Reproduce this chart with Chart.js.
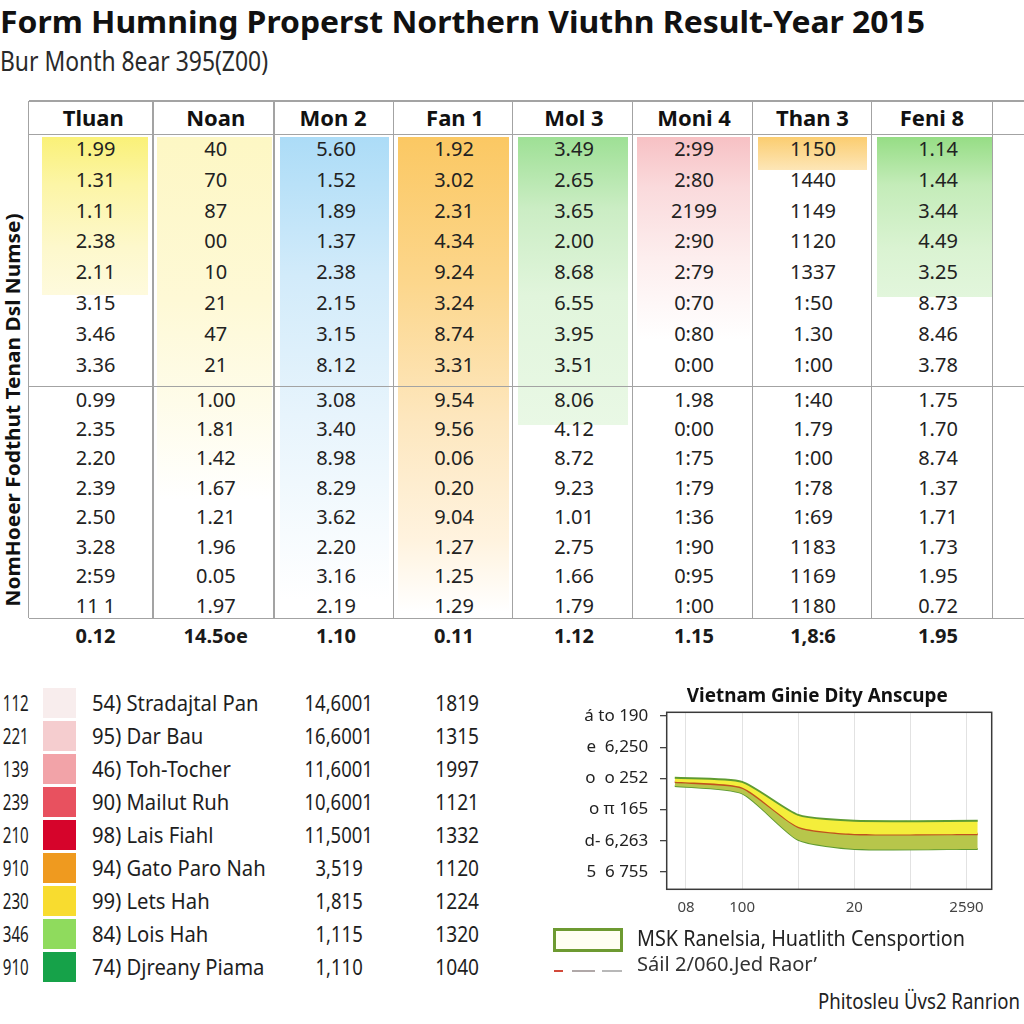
<!DOCTYPE html>
<html>
<head>
<meta charset="utf-8">
<script src="https://cdn.jsdelivr.net/npm/chart.js@4.4.0/dist/chart.umd.min.js"></script>
<style>
    html, body { margin: 0; padding: 0; background: #fff; }
    body { width: 1024px; height: 1024px; position: relative; overflow: hidden; font-family: "Noto Sans", sans-serif; color: #1e1e1e; }
    .t { position: absolute; white-space: pre; line-height: 1; font-family: "Noto Sans", sans-serif; }
    .ln { position: absolute; background: #a3a3a3; }
    .shade { position: absolute; }
    #bandChart { position: absolute; left: 540px; top: 700px; }
</style>
</head>
<body>
<canvas id="bandChart" width="460" height="230"></canvas>
<script>
// ---- table data ----
var columnHeaders = ['Tluan', 'Noan', 'Mon 2', 'Fan 1', 'Mol 3', 'Moni 4', 'Than 3', 'Feni 8'];
var tluan = ['1.99', '1.31', '1.11', '2.38', '2.11', '3.15', '3.46', '3.36', '0.99', '2.35', '2.20', '2.39', '2.50', '3.28', '2:59', '11 1'];
var noan  = ['40', '70', '87', '00', '10', '21', '47', '21', '1.00', '1.81', '1.42', '1.67', '1.21', '1.96', '0.05', '1.97'];
var mon2  = ['5.60', '1.52', '1.89', '1.37', '2.38', '2.15', '3.15', '8.12', '3.08', '3.40', '8.98', '8.29', '3.62', '2.20', '3.16', '2.19'];
var fan1  = ['1.92', '3.02', '2.31', '4.34', '9.24', '3.24', '8.74', '3.31', '9.54', '9.56', '0.06', '0.20', '9.04', '1.27', '1.25', '1.29'];
var mol3  = ['3.49', '2.65', '3.65', '2.00', '8.68', '6.55', '3.95', '3.51', '8.06', '4.12', '8.72', '9.23', '1.01', '2.75', '1.66', '1.79'];
var moni4 = ['2:99', '2:80', '2199', '2:90', '2:79', '0:70', '0:80', '0:00', '1.98', '0:00', '1:75', '1:79', '1:36', '1:90', '0:95', '1:00'];
var than3 = ['1150', '1440', '1149', '1120', '1337', '1:50', '1.30', '1:00', '1:40', '1.79', '1:00', '1:78', '1:69', '1183', '1169', '1180'];
var feni8 = ['1.14', '1.44', '3.44', '4.49', '3.25', '8.73', '8.46', '3.78', '1.75', '1.70', '8.74', '1.37', '1.71', '1.73', '1.95', '0.72'];
var footerRow = ['0.12', '14.5oe', '1.10', '0.11', '1.12', '1.15', '1,8:6', '1.95'];

// ---- colour key list ----
var keyCodes  = ['112', '221', '139', '239', '210', '910', '230', '346', '910'];
var keyNames  = ['54) Stradajtal Pan', '95) Dar Bau', '46) Toh-Tocher', '90) Mailut Ruh', '98) Lais Fiahl',
                 '94) Gato Paro Nah', '99) Lets Hah', '84) Lois Hah', '74) Djreany Piama'];
var keyValueA = ['14,6001', '16,6001', '11,6001', '10,6001', '11,5001', '3,519', '1,815', '1,115', '1,110'];
var keyValueB = ['1819', '1315', '1997', '1121', '1332', '1120', '1224', '1320', '1040'];
var keyColors = ['#f8eded', '#f5cdcf', '#f2a3a8', '#e8515f', '#d6042b', '#ef9a1f', '#f8dc2f', '#8fdb5d', '#16a249'];

// ---- small band chart ----
var bandX     = [-0.2, 1.0, 2.0, 3.0, 5.2];
var bandUpper = [3.02, 2.89, 1.83, 1.64, 1.64];
var bandMid   = [2.89, 2.71, 1.45, 1.22, 1.22];
var bandLower = [2.76, 2.52, 1.03, 0.74, 0.74];
var yTickLabels = ['5  6 755', 'd- 6,263', 'o \u03c0 165', 'o  o 252', 'e  6,250', '\u00e1 to 190'];
var xTickLabels = ['08', '100', '', '20', '', '2590'];

// place a line of text by its baseline (Noto Sans, line-height 1)
function put(txt, x, base, size, opt) {
    opt = opt || {};
    var d = document.createElement('div');
    d.className = 't';
    d.textContent = txt;
    d.style.fontSize = size + 'px';
    d.style.fontWeight = opt.bold ? '700' : '400';
    if (opt.color) d.style.color = opt.color;
    d.style.top = (base - 0.888 * size) + 'px';
    document.body.appendChild(d);
    var w = d.getBoundingClientRect().width;
    var sx = opt.w ? opt.w / w : (opt.sx || 1);
    var align = opt.align || 'left';
    var left = align === 'center' ? x - w / 2 : (align === 'right' ? x - w : x);
    d.style.left = left + 'px';
    d.style.transformOrigin = align === 'center' ? '50% 50%' : (align === 'right' ? '100% 50%' : '0 50%');
    d.style.transform = 'scaleX(' + sx + ')';
    return d;
}

function box(cls, x, y, w, h, bg) {
    var d = document.createElement('div');
    d.className = cls;
    d.style.left = x + 'px';
    d.style.top = y + 'px';
    d.style.width = w + 'px';
    d.style.height = h + 'px';
    if (bg) d.style.background = bg;
    document.body.appendChild(d);
    return d;
}

// ---- headings ----
put('Form Humning Properst Northern Viuthn Result-Year 2015', 0, 33.3, 30, { bold: true, w: 925, color: '#111' });
put('Bur Month 8ear 395(Z00)', 0, 71, 28, { w: 268, color: '#2a2a2a' });

// ---- table ----
var colLines = [28.5, 153, 274, 393.5, 512.5, 632.7, 752.7, 871.7, 992.7];
var headCenters = [93.3, 215.8, 333, 455, 574, 694, 812.5, 932];
var cellCenters = [95.5, 215.8, 336, 454, 574, 694, 813, 938];

// soft colour washes behind the columns
var shades = [
    [41.7, 148, 295, 'linear-gradient(180deg,#faf178 0%,#fcf5a6 30%,#fdf8cc 70%,#fefadd 100%)'],
    [157, 271.7, 500, 'linear-gradient(180deg,#fdf7c4 0%,#fef9d6 45%,rgba(254,251,226,0.7) 75%,rgba(255,255,255,0) 100%)'],
    [280, 389, 600, 'linear-gradient(180deg,#acdcf7 0%,#d2ebfa 30%,#e7f4fc 60%,rgba(240,248,253,0) 100%)'],
    [398, 509, 612, 'linear-gradient(180deg,#fbc863 0%,#fcd68b 30%,#fde7bf 60%,#fff3df 85%,rgba(255,255,255,0) 100%)'],
    [518, 628, 425, 'linear-gradient(180deg,#9ee095 0%,#cbedc4 25%,#e1f5dc 55%,#e9f8e5 100%)'],
    [637, 750, 340, 'linear-gradient(180deg,#f7c1c4 0%,#fadadc 25%,#fdeeee 60%,rgba(255,255,255,0) 100%)'],
    [758, 867, 170, 'linear-gradient(180deg,#fbcd70 0%,#fde6b7 100%)'],
    [877, 992, 297, 'linear-gradient(180deg,#96dd85 0%,#c4ecb9 30%,#daf3d2 70%,#e2f6dc 100%)']
];
shades.forEach(function(s) {
    box('shade', s[0], 136.5, s[1] - s[0], s[2] - 136.5, s[3]);
});

// grid lines
[101, 134.3, 386.7, 618.3].forEach(function(y) {
    box('ln', 28.5, y - 0.75, 1024 - 28.5, 1.5);
});
colLines.forEach(function(x) {
    box('ln', x - 0.75, 101, 1.5, 618.3 - 101);
});

columnHeaders.forEach(function(h, i) {
    put(h, headCenters[i], 125.7, 22, { bold: true, align: 'center', color: '#111' });
});

var columns = [tluan, noan, mon2, fan1, mol3, moni4, than3, feni8];
columns.forEach(function(col, c) {
    col.forEach(function(v, r) {
        var base = r < 8 ? 156.7 + 30.8 * r : 407.3 + 29.43 * (r - 8);
        put(v, cellCenters[c], base, 20, { align: 'center', color: '#222' });
    });
});
footerRow.forEach(function(v, c) {
    put(v, cellCenters[c], 643.3, 20, { bold: true, align: 'center', color: '#1a1a1a' });
});

// rotated row-axis label
(function() {
    var size = 20;
    var d = document.createElement('div');
    d.className = 't';
    d.textContent = 'NomHoeer Fodthut Tenan Dsl Numse)';
    d.style.fontSize = size + 'px';
    d.style.fontWeight = '700';
    d.style.color = '#111';
    document.body.appendChild(d);
    var w = d.getBoundingClientRect().width;
    var cx = 20 - 0.388 * size, cy = 409.5;
    d.style.left = (cx - w / 2) + 'px';
    d.style.top = (cy - size / 2) + 'px';
    d.style.transformOrigin = '50% 50%';
    d.style.transform = 'rotate(-90deg) scaleX(' + (393 / w) + ')';
})();

// ---- colour key list ----
keyNames.forEach(function(name, i) {
    var base = 710.7 + 33 * i;
    box('shade', 43.3, 688.3 + 33 * i, 32.7, 29.5, keyColors[i]);
    put(keyCodes[i], 28.3, base, 22, { align: 'right', w: 26 });
    put(name, 91.7, base, 22, { sx: 0.92 });
    put(keyValueA[i], 339, base, 22, { align: 'center', sx: 0.84 });
    put(keyValueB[i], 457, base, 22, { align: 'center', sx: 0.87 });
});

// ---- band chart ----
put('Vietnam Ginie Dity Anscupe', 817.5, 702.7, 20, { bold: true, align: 'center', w: 261, color: '#111' });

var boxPlugin = {
    id: 'plotBox',
    afterDraw: function(chart) {
        var a = chart.chartArea, ctx = chart.ctx;
        ctx.save();
        ctx.strokeStyle = '#3a3a3a';
        ctx.lineWidth = 1.5;
        ctx.strokeRect(a.left, a.top, a.right - a.left, a.bottom - a.top);
        ctx.restore();
    }
};

function pts(ys) {
    return ys.map(function(y, i) { return { x: bandX[i], y: y }; });
}

function fixedTicks(lo, hi) {
    return function(scale) {
        scale.ticks = [0, 1, 2, 3, 4, 5].map(function(v) { return { value: v }; });
        scale.min = lo;
        scale.max = hi;
    };
}

// keep the plot box where it is in the picture: no extra room for edge labels
function fixSize(prop, size) {
    return function(scale) {
        scale[prop] = size;
        scale.paddingTop = 0;
        scale.paddingBottom = 0;
        scale.paddingLeft = 0;
        scale.paddingRight = 0;
    };
}

Chart.defaults.font.family = '"Noto Sans", sans-serif';
new Chart(document.getElementById('bandChart').getContext('2d'), {
    type: 'line',
    data: {
        datasets: [{
            data: pts(bandUpper),
            borderColor: '#5f9b32',
            borderWidth: 2,
            backgroundColor: '#f4ee3b',
            fill: '+1',
            pointRadius: 0,
            tension: 0.2
        }, {
            data: pts(bandMid),
            borderColor: '#c0521d',
            borderWidth: 2.5,
            backgroundColor: '#b7c64b',
            fill: '+1',
            pointRadius: 0,
            tension: 0.2
        }, {
            data: pts(bandLower),
            borderColor: '#5f9b32',
            borderWidth: 2,
            fill: false,
            pointRadius: 0,
            tension: 0.2
        }]
    },
    options: {
        responsive: false,
        animation: false,
        devicePixelRatio: 1,
        layout: { padding: { top: 12.3, right: 8.3, left: 0, bottom: 0 } },
        plugins: { legend: { display: false }, tooltip: { enabled: false } },
        scales: {
            x: {
                type: 'linear',
                min: -0.344,
                max: 5.449,
                bounds: 'data',
                afterBuildTicks: fixedTicks(-0.344, 5.449),
                afterFit: fixSize('height', 40.7),
                grid: { color: '#e2e2e2', drawTicks: false },
                border: { display: false },
                ticks: {
                    padding: 9.4,
                    color: '#444',
                    font: { size: 15 },
                    maxRotation: 0,
                    callback: function(v) { return xTickLabels[v]; }
                }
            },
            y: {
                min: -0.555,
                max: 5.12,
                bounds: 'data',
                afterBuildTicks: fixedTicks(-0.555, 5.12),
                afterFit: fixSize('width', 126.7),
                grid: { drawOnChartArea: false, drawTicks: true, tickLength: 6.7, color: '#444', lineWidth: 1.3 },
                border: { display: false },
                ticks: {
                    padding: 11.7,
                    color: '#222',
                    font: { size: 17 },
                    callback: function(v) { return yTickLabels[v]; }
                }
            }
        }
    },
    plugins: [boxPlugin]
});

// legend under the band chart
var lg = box('shade', 553, 928, 70, 24, '#fffff2');
lg.style.boxSizing = 'border-box';
lg.style.border = '3px solid #6d9a31';
put('MSK Ranelsia, Huatlith Censportion', 637, 946.7, 21, { w: 328, color: '#222' });
box('shade', 554, 970, 9, 2, '#d2493a');
box('shade', 572, 970, 23, 2, '#b0a8a8');
box('shade', 602, 970, 20, 2, '#b8b8b8');
put('S\u00e1il 2/060.Jed Raor\u2019', 637, 971.7, 20, { w: 180, color: '#333' });

put('Phitosleu \u00dcvs2 Ranrion', 818, 1009, 22, { w: 202, color: '#222' });
</script>
</body>
</html>
